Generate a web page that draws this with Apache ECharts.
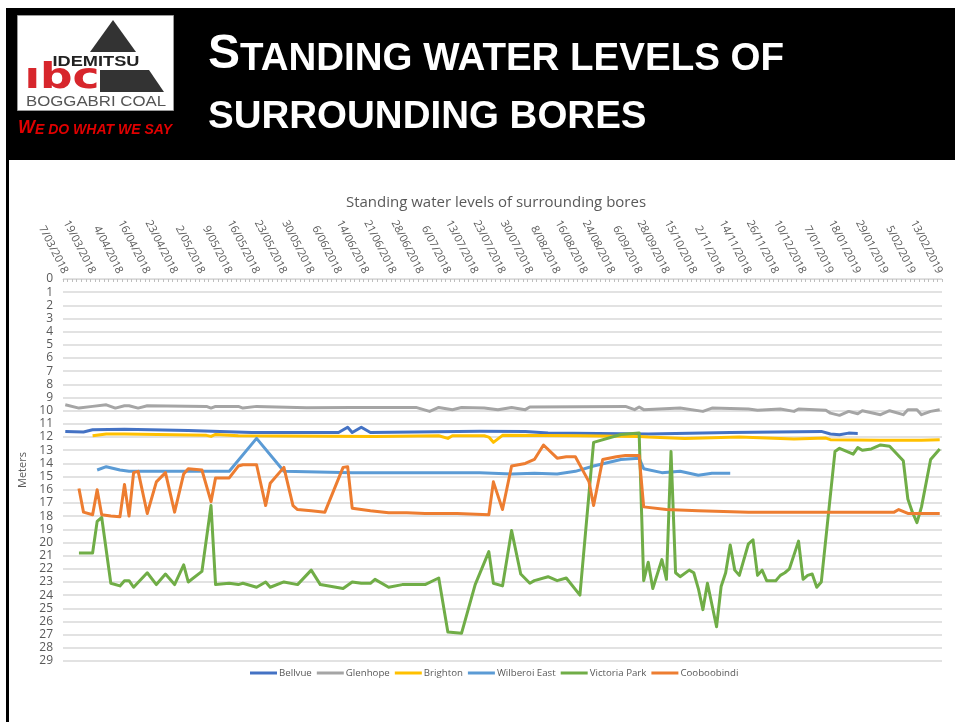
<!DOCTYPE html>
<html>
<head>
<meta charset="utf-8">
<title>Standing water levels of surrounding bores</title>
<script src="https://cdn.jsdelivr.net/npm/echarts@6/dist/echarts.min.js"></script>
<style>
  html, body { margin: 0; padding: 0; background: #fff; }
  #chart { width: 955px; height: 722px; }
</style>
</head>
<body>
<div id="chart"></div>
<script>
// date labels shown on the top axis (one every 6 readings)
var tickLabels = ['7/03/2018', '19/03/2018', '4/04/2018', '16/04/2018', '23/04/2018', '2/05/2018',
    '9/05/2018', '16/05/2018', '23/05/2018', '30/05/2018', '6/06/2018', '14/06/2018', '21/06/2018',
    '28/06/2018', '6/07/2018', '13/07/2018', '23/07/2018', '30/07/2018', '8/08/2018', '16/08/2018',
    '24/08/2018', '6/09/2018', '28/09/2018', '15/10/2018', '2/11/2018', '14/11/2018', '26/11/2018',
    '10/12/2018', '7/01/2019', '18/01/2019', '29/01/2019', '5/02/2019', '13/02/2019'];
var seriesNames = ['Bellvue', 'Glenhope', 'Brighton', 'Wilberoi East', 'Victoria Park', 'Cooboobindi'];

// [reading index, depth in metres]
var bellvue = [[0,11.57],[4,11.62],[6,11.45],[13,11.4],[27,11.5],[41,11.65],[60,11.65],[62,11.25],[63,11.65],
    [65,11.25],[67,11.65],[91,11.55],[101,11.57],[106,11.7],[128,11.77],[146,11.65],[166,11.57],[168,11.77],
    [170,11.82],[172,11.7],[174,11.72]];
var glenhope = [[0,9.55],[3,9.8],[6,9.67],[9,9.55],[11,9.8],[13,9.62],[14,9.62],[16,9.8],[18,9.62],[31,9.67],
    [32,9.8],[33,9.67],[38,9.67],[39,9.8],[42,9.67],[53,9.77],[63,9.75],[77,9.75],[80,10.05],[82,9.75],[85,9.92],
    [87,9.75],[92,9.8],[95,9.92],[98,9.75],[101,9.92],[102,9.72],[123,9.67],[125,9.92],[126,9.72],[127,9.92],
    [135,9.8],[140,10.05],[142,9.8],[150,9.87],[152,9.97],[157,9.87],[160,10.05],[161,9.87],[167,9.97],
    [168,10.18],[170,10.35],[172,10.05],[174,10.23],[175,10.0],[179,10.3],[181,10.0],[184,10.3],[185,9.92],
    [187,9.92],[188,10.3],[190,10.05],[192,9.92]];
var brighton = [[6,11.9],[9,11.77],[13,11.77],[31,11.87],[32,11.95],[33,11.8],[38,11.9],[68,11.95],[82,11.9],
    [84,12.1],[85,11.9],[92,11.9],[93,12.0],[94,12.4],[96,11.87],[113,11.9],[126,11.95],[128,12.0],[136,12.1],
    [148,12.0],[160,12.15],[167,12.08],[168,12.2],[179,12.25],[188,12.25],[192,12.2]];
var wilberoiEast = [[7,14.5],[9,14.25],[12,14.5],[14,14.6],[36,14.6],[42,12.1],[48,14.6],[63,14.7],[87,14.7],
    [91,14.7],[98,14.8],[103,14.75],[108,14.8],[112,14.6],[116,14.2],[122,13.7],[126,13.6],[127,14.4],
    [131,14.7],[135,14.6],[139,14.9],[142,14.75],[146,14.75]];
var victoriaPark = [[3,20.8],[6,20.8],[7,18.4],[8,18.1],[10,23.1],[12,23.3],[13,22.9],[14,22.9],[15,23.4],
    [18,22.3],[20,23.2],[22,22.4],[24,23.2],[26,21.7],[27,23.0],[30,22.2],[32,17.2],[33,23.2],[36,23.1],
    [38,23.2],[39,23.1],[42,23.4],[44,23.0],[45,23.4],[48,23.0],[51,23.2],[54,22.1],[56,23.2],[61,23.5],
    [63,23.0],[65,23.1],[67,23.1],[68,22.8],[71,23.4],[74,23.2],[79,23.2],[82,22.7],[84,26.8],[87,26.9],
    [90,23.2],[93,20.7],[94,23.1],[96,23.3],[98,19.1],[100,22.4],[102,23.1],[103,22.9],[106,22.6],[108,22.9],
    [110,22.7],[113,24.0],[116,12.4],[122,11.8],[126,11.7],[127,22.9],[128,21.5],[129,23.5],[131,21.3],
    [132,22.8],[133,13.1],[134,22.3],[135,22.6],[137,22.1],[138,22.3],[139,23.5],[140,25.1],[141,23.1],
    [143,26.4],[144,23.35],[145,22.3],[146,20.2],[147,22.1],[148,22.5],[150,20.1],[151,19.8],[152,22.5],
    [153,22.1],[154,22.9],[156,22.9],[157,22.5],[158,22.3],[159,22.0],[161,19.9],[162,22.8],[163,22.5],
    [164,22.4],[165,23.4],[166,23.0],[169,13.1],[170,12.85],[173,13.3],[174,12.8],[175,13.0],[177,12.9],
    [179,12.6],[181,12.7],[184,13.8],[185,16.7],[186,17.7],[187,18.5],[188,17.3],[190,13.7],[192,12.9]];
var cooboobindi = [[3,15.9],[4,17.7],[6,17.9],[7,16.0],[8,17.9],[10,18.0],[12,18.05],[13,15.6],[14,18.0],
    [15,14.7],[16,14.6],[18,17.8],[20,15.4],[22,14.7],[24,17.7],[26,14.8],[27,14.4],[30,14.5],[32,16.9],
    [33,15.1],[36,15.1],[38,14.2],[39,14.1],[42,14.1],[44,17.2],[45,15.5],[48,14.3],[50,17.2],[51,17.5],
    [54,17.6],[57,17.7],[61,14.3],[62,14.25],[63,17.4],[67,17.6],[71,17.75],[75,17.75],[79,17.8],[86,17.8],
    [93,17.9],[94,15.4],[96,17.5],[98,14.2],[101,14.0],[103,13.7],[105,12.6],[108,13.6],[110,13.5],[112,13.5],
    [115,15.4],[116,17.2],[118,13.7],[121,13.5],[123,13.4],[126,13.4],[127,17.3],[132,17.5],[139,17.6],
    [150,17.7],[164,17.7],[182,17.7],[183,17.5],[185,17.8],[192,17.8]];

var colors = ['#4472c4', '#a5a5a5', '#ffc000', '#5b9bd5', '#70ad47', '#ed7d31'];
var seriesData = [bellvue, glenhope, brighton, wilberoiEast, victoriaPark, cooboobindi];

// one category per reading, only every 6th one carries a label
var categories = [];
tickLabels.forEach(function (d, k) {
    categories.push(d);
    if (k < tickLabels.length - 1) {
        for (var j = 1; j < 6; j++) categories.push('');
    }
});

var chart = echarts.init(document.getElementById('chart'));
var gray = '#595959';
var font = 'Open Sans';

chart.setOption({
    animation: false,
    color: colors,
    grid: { left: 63, right: 13, top: 279, bottom: 61, containLabel: false },
    legend: {
        left: 245, top: 663,
        icon: 'rect', itemWidth: 27, itemHeight: 3, itemGap: 5,
        textStyle: { color: gray, fontSize: 9.7, fontFamily: font, padding: [0, 0, 0, -3] },
        data: seriesNames
    },
    xAxis: {
        type: 'category',
        position: 'top',
        data: categories,
        boundaryGap: true,
        axisLine: { show: true, lineStyle: { color: '#d9d9d9', width: 1 } },
        axisTick: { show: true, inside: true, length: 3, interval: 0, lineStyle: { color: '#bfbfbf' } },
        axisLabel: { interval: 0, rotate: -63, color: gray, fontSize: 11, fontFamily: font, margin: 6 },
        splitLine: { show: false }
    },
    yAxis: {
        type: 'value',
        inverse: true,
        min: 0, max: 29, interval: 1,
        name: 'Meters',
        nameLocation: 'middle',
        nameGap: 33,
        nameTextStyle: { color: gray, fontSize: 11, fontFamily: font },
        axisLine: { show: false },
        axisTick: { show: false },
        axisLabel: { color: gray, fontSize: 12, fontFamily: font, margin: 10 },
        splitLine: { lineStyle: { color: '#d9d9d9', width: 1.5 } }
    },
    series: seriesNames.map(function (name, i) {
        return {
            name: name,
            type: 'line',
            data: seriesData[i],
            symbol: 'none',
            lineStyle: { width: 3, color: colors[i], join: 'round' },
            z: 2 + i
        };
    }),
    graphic: [
        // slide header
        { type: 'rect', left: 6, top: 8, shape: { width: 949, height: 152 }, style: { fill: '#000' }, silent: true },
        { type: 'rect', left: 6, top: 160, shape: { width: 3, height: 562 }, style: { fill: '#000' }, silent: true },
        // logo
        { type: 'rect', left: 17, top: 15, shape: { width: 156, height: 95 }, style: { fill: '#fff', stroke: '#9a9a9a', lineWidth: 1 } },
        { type: 'polygon', shape: { points: [[113, 20], [136, 52], [90, 52]] }, style: { fill: '#333' } },
        { type: 'polygon', shape: { points: [[100, 70], [149, 70], [164, 92], [100, 92]] }, style: { fill: '#333' } },
        { type: 'text', x: 96, y: 62, scaleX: 1.3, style: { text: 'IDEMITSU', fill: '#222', font: 'bold 14px "Liberation Sans"', align: 'center', verticalAlign: 'middle' } },
        { type: 'text', x: 62, y: 79, scaleX: 1.3, style: { text: 'ıbc', fill: '#d7262c', font: '900 35px "DejaVu Sans"', align: 'center', verticalAlign: 'middle' } },
        { type: 'text', x: 96, y: 102, scaleX: 1.2, style: { text: 'BOGGABRI COAL', fill: '#555', font: '14px "Liberation Sans"', align: 'center', verticalAlign: 'middle' } },
        {
            type: 'text', x: 18, y: 137,
            style: {
                text: '{b|W}{s|E DO WHAT WE SAY}',
                verticalAlign: 'bottom',
                rich: {
                    b: { fill: '#e00000', fontSize: 18, fontStyle: 'italic', fontWeight: 'bold', fontFamily: 'Liberation Sans', verticalAlign: 'bottom', lineHeight: 20 },
                    s: { fill: '#e00000', fontSize: 14, fontStyle: 'italic', fontWeight: 'bold', fontFamily: 'Liberation Sans', verticalAlign: 'bottom', lineHeight: 20 }
                }
            }
        },
        {
            type: 'text', x: 208, y: 79,
            style: {
                text: '{b|S}{s|TANDING WATER LEVELS OF}',
                verticalAlign: 'bottom',
                rich: {
                    b: { fill: '#fff', fontSize: 48, fontWeight: 'bold', fontFamily: 'Liberation Sans', verticalAlign: 'bottom', lineHeight: 54 },
                    s: { fill: '#fff', fontSize: 38.5, fontWeight: 'bold', fontFamily: 'Liberation Sans', verticalAlign: 'bottom', lineHeight: 54 }
                }
            }
        },
        {
            type: 'text', x: 208, y: 137,
            style: {
                text: '{s|SURROUNDING BORES}',
                verticalAlign: 'bottom',
                rich: {
                    s: { fill: '#fff', fontSize: 38.5, fontWeight: 'bold', fontFamily: 'Liberation Sans', verticalAlign: 'bottom', lineHeight: 54 }
                }
            }
        },
        // chart title
        { type: 'text', x: 496, y: 203, style: { text: 'Standing water levels of surrounding bores', fill: gray, font: '15px "Open Sans"', align: 'center', verticalAlign: 'middle' } }
    ]
});
</script>
</body>
</html>
